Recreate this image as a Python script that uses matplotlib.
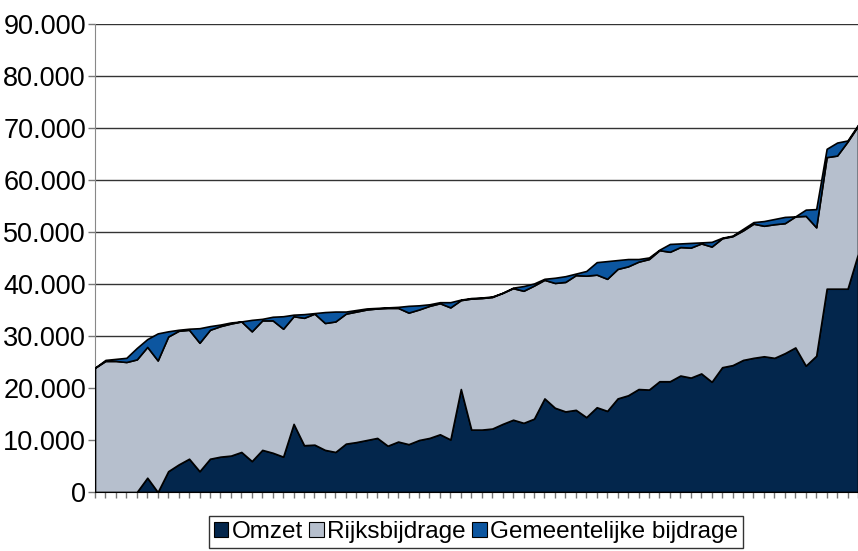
import numpy as np
import matplotlib.pyplot as plt
from matplotlib.ticker import FuncFormatter, MultipleLocator
from matplotlib.patches import Patch

plt.rcParams['font.family'] = ['Liberation Sans', 'DejaVu Sans']

# waarden per instelling (euro's)
omzet = [0, 0, 0, 0, 0, 2750, 0, 4000, 5300, 6400,
         4000, 6400, 6800, 7000, 7700, 5950, 8100, 7550, 6800, 13100,
         9000, 9100, 8100, 7700, 9300, 9600, 10000, 10400, 8900, 9700,
         9200, 10000, 10400, 11100, 10100, 19800, 12000, 12000, 12200, 13100,
         13900, 13300, 14100, 18000, 16200, 15500, 15800, 14400, 16300, 15600,
         18000, 18600, 19800, 19700, 21300, 21300, 22400, 22000, 22800, 21200,
         24000, 24400, 25400, 25800, 26100, 25800, 26700, 27800, 24300, 26200,
         39100, 39100, 39100, 45800]
rijksbijdrage = [23900, 25200, 25200, 25000, 25500, 25150, 25300, 25900, 25700, 24800,
                 24700, 24800, 25100, 25400, 25100, 24950, 24900, 25450, 24600, 20700,
                 24500, 25200, 24400, 25100, 25000, 25100, 25100, 24900, 26500, 25700,
                 25300, 25100, 25400, 25200, 25400, 17100, 25200, 25300, 25300, 25200,
                 25300, 25400, 25600, 22800, 24000, 24900, 25900, 27200, 25500, 25400,
                 24900, 24800, 24500, 25100, 25200, 24900, 24700, 25000, 25000, 26000,
                 24800, 24800, 24900, 25800, 25100, 25700, 25000, 25200, 28800, 24700,
                 25300, 25600, 28300, 24600]
gemeentelijk = [0, 200, 400, 800, 2200, 1500, 5200, 1000, 200, 200,
                2800, 700, 300, 200, 0, 2200, 300, 700, 2400, 300,
                700, 100, 2100, 1900, 400, 300, 200, 100, 100, 200,
                1300, 800, 300, 200, 1000, 100, 100, 100, 100, 0,
                100, 900, 400, 200, 1000, 1100, 300, 900, 2400, 3400,
                1700, 1400, 500, 300, 100, 1500, 700, 900, 200, 900,
                100, 100, 300, 300, 900, 1000, 1200, 0, 1200, 3500,
                1600, 2500, 200, 200]

labels = ['Omzet', 'Rijksbijdrage', 'Gemeentelijke bijdrage']
colors = ['#03264C', '#B6BFCD', '#0C56A0']

x = np.arange(len(omzet))

fig = plt.figure(figsize=(8.58, 5.51), dpi=100)
ax = fig.add_axes([95 / 858, 1 - 492 / 551, 763 / 858, 468 / 551])

ax.stackplot(x, omzet, rijksbijdrage, gemeentelijk, colors=colors,
             edgecolor='black', linewidth=1.2, zorder=3)

ax.set_xlim(0, len(omzet) - 1)
ax.set_ylim(0, 90000)
ax.yaxis.set_major_locator(MultipleLocator(10000))
ax.yaxis.set_major_formatter(FuncFormatter(lambda v, p: f'{int(v):,}'.replace(',', '.')))
ax.grid(axis='y', color='#333333', linewidth=1, zorder=1)
ax.set_xticks(x)
ax.set_xticklabels([])
ax.tick_params(axis='x', length=4, color='#777777', width=1)
ax.tick_params(axis='y', length=5, color='#777777', width=1, labelsize=19.5, pad=1.5)

for s in ['top', 'right']:
    ax.spines[s].set_visible(False)
ax.spines['left'].set_color('#888888')
ax.spines['bottom'].set_color('black')
ax.spines['bottom'].set_zorder(4)

handles = [Patch(facecolor=c, edgecolor='black', linewidth=0.8) for c in colors]
leg = fig.legend(handles, labels, loc='upper center', ncol=3,
                 bbox_to_anchor=(476 / 858, 1 - 516 / 551), fontsize=17.5,
                 frameon=True, fancybox=False, borderpad=0.2,
                 handlelength=0.6, handleheight=0.6, handletextpad=0.15,
                 columnspacing=0.25, borderaxespad=0)
leg.get_frame().set_edgecolor('black')
leg.get_frame().set_linewidth(1)

fig.savefig('out.png', dpi=100)
